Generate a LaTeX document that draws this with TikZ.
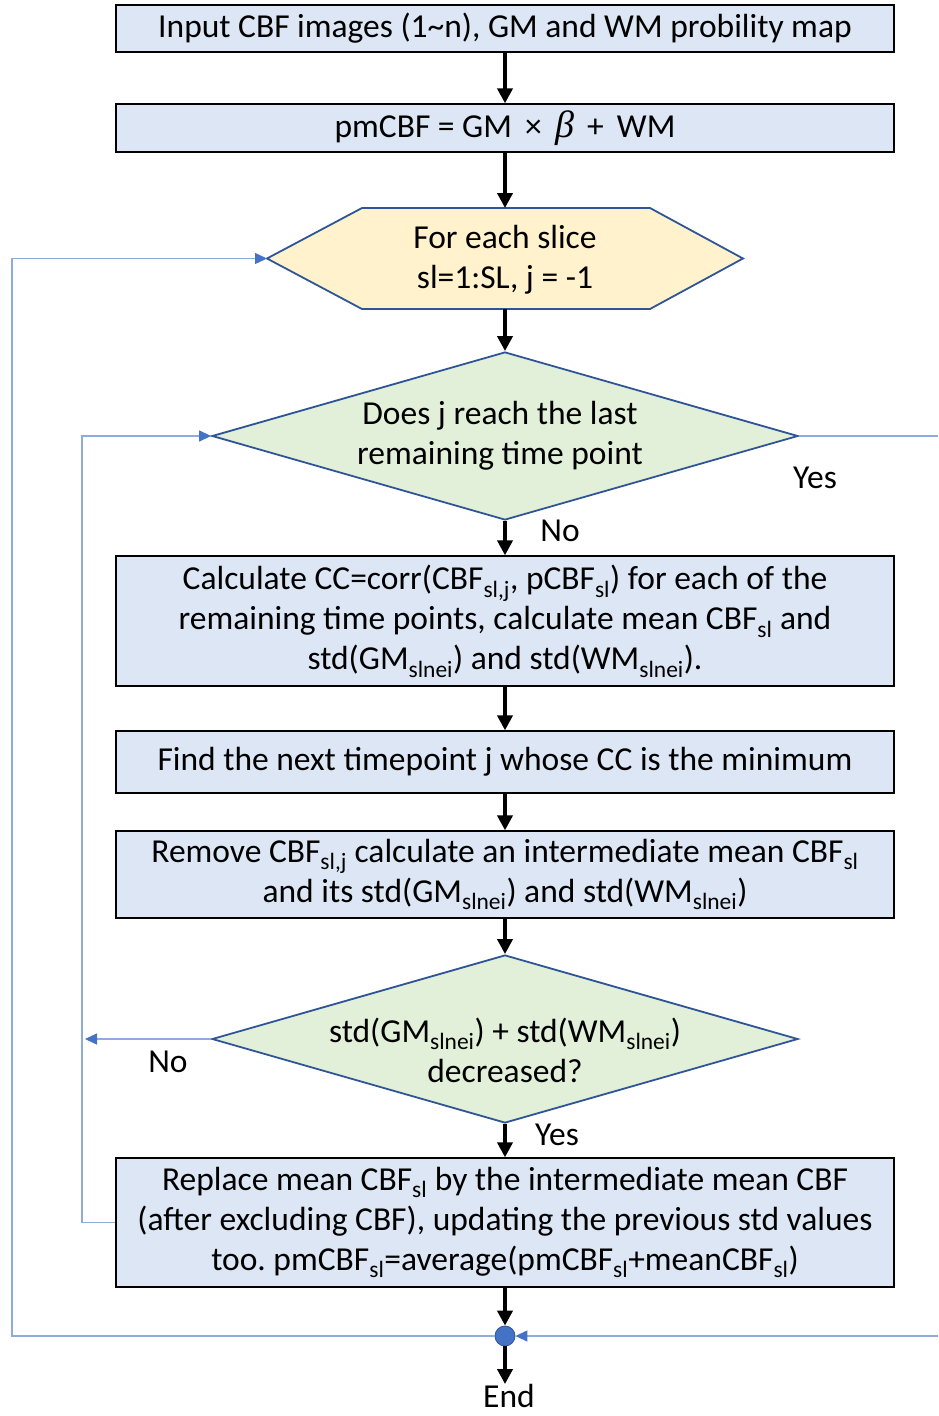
\documentclass[tikz,border=0pt]{standalone}
\usepackage{fontspec}
\setmainfont{Carlito}
\newfontfamily\greekit{Liberation Serif}
\usetikzlibrary{arrows.meta,shapes.geometric}
\definecolor{procfill}{HTML}{DCE6F4}
\definecolor{loopfill}{HTML}{FFF2CC}
\definecolor{decfill}{HTML}{E2F0D9}
\definecolor{shapeedge}{HTML}{2F5597}
\definecolor{loopline}{HTML}{8FAADC}
\definecolor{looptip}{HTML}{4472C4}
\newcommand{\sbs}[1]{\textsubscript{#1}}
\frenchspacing
\begin{document}
\begin{tikzpicture}[x=1pt,y=-1pt,
  font=\fontsize{33.5}{40}\selectfont,
  proc/.style={draw=black, line width=1.3pt, fill=procfill, minimum width=778pt, align=center, inner sep=0pt},
  dec/.style={diamond, draw=shapeedge, line width=1.8pt, fill=decfill, minimum width=586pt, minimum height=168pt, inner sep=0pt},
  hexstyle/.style={draw=shapeedge, line width=1.8pt, fill=loopfill, line join=miter},
  txt/.style={align=center, inner sep=0pt},
  flow/.style={line width=4pt, -{Triangle[length=15pt,width=15pt]}},
  loopln/.style={draw=loopline, line width=1.3pt},
  looparrow/.style={loopln, -{Triangle[length=12pt,width=11pt,color=looptip]}}
]
\useasboundingbox (0,0) rectangle (938,1416);

% main chain
\node[proc, minimum height=47pt] (b1) at (505,28.5)
  {Input CBF images (1\textasciitilde n), GM and WM probility map};
\node[proc, minimum height=48pt] (b2) at (505,128)
  {pmCBF = GM \,×\, {\greekit\itshape\fontsize{38}{40}\selectfont β} \,+\, WM};

% slice loop header
\draw[hexstyle] (267,258.5) -- (362,208) -- (650,208) -- (743,258.5) -- (650,309) -- (362,309) -- cycle;
\coordinate (hexL) at (267,258.5);
\coordinate (hexT) at (505,208);
\coordinate (hexB) at (505,309);
\node[txt] (hex) at (505,260) {For each slice\\sl=1:SL, j = -1};

\node[dec] (d1) at (505,436) {};
\node[txt] (d1t) at (500,436) {Does j reach the last\\remaining time point};

\node[proc, minimum height=130pt] (b3) at (505,621)
  {Calculate CC=corr(CBF\sbs{sl,j}, pCBF\sbs{sl}) for each of the\\
   remaining time points, calculate mean CBF\sbs{sl} and\\
   std(GM\sbs{slnei}) and std(WM\sbs{slnei}).};
\node[proc, minimum height=62pt] (b4) at (505,762)
  {Find the next timepoint j whose CC is the minimum};
\node[proc, minimum height=87pt] (b5) at (505,874.5)
  {Remove CBF\sbs{sl,j} calculate an intermediate mean CBF\sbs{sl}\\
   and its std(GM\sbs{slnei}) and std(WM\sbs{slnei})};

\node[dec] (d2) at (505,1039) {};
\node[txt] (d2t) at (505,1050) {std(GM\sbs{slnei}) + std(WM\sbs{slnei})\\decreased?};

\node[proc, minimum height=129pt] (b6) at (505,1222.5)
  {Replace mean CBF\sbs{sl} by the intermediate mean CBF\\
   (after excluding CBF), updating the previous std values\\
   too. pmCBF\sbs{sl}=average(pmCBF\sbs{sl}+meanCBF\sbs{sl})};

\node[circle, fill=looptip, draw=shapeedge, line width=0.8pt, minimum size=20pt, inner sep=0pt] (junc) at (505,1336) {};
\node[txt] (end) at (509,1396) {End};

% branch labels
\node[txt] (yes1) at (815,478) {Yes};
\node[txt] (no1) at (560,531) {No};
\node[txt] (no2) at (168,1062) {No};
\node[txt] (yes2) at (557,1135) {Yes};

% main flow arrows
\draw[flow] (b1.south) -- (b2.north);
\draw[flow] (b2.south) -- (hexT);
\draw[flow] (hexB) -- (d1.north);
\draw[flow] (d1.south) -- (b3.north);
\draw[flow] (b3.south) -- (b4.north);
\draw[flow] (b4.south) -- (b5.north);
\draw[flow] (b5.south) -- (d2.north);
\draw[flow] (d2.south) -- (b6.north);
\draw[flow] (b6.south) -- (junc.north);
\draw[flow] (junc.south) -- (junc.south |- end.north);

% loop-back connectors
\coordinate (outerB) at (12,1336);
\coordinate (outerT) at (12,258.5);
\coordinate (innerB) at (82,1222.5);
\coordinate (innerT) at (82,436);
\coordinate (noEnd) at (85,1039);
\coordinate (rTop) at (938,436);
\coordinate (rBot) at (938,1336);

\draw[looparrow] (junc.west) -- (outerB) -- (outerT) -- (hexL);
\draw[looparrow] (b6.west) -- (innerB) -- (innerT) -- (d1.west);
\draw[looparrow] (d2.west) -- (noEnd);
\draw[loopln] (d1.east) -- (rTop);
\draw[looparrow] (rBot) -- (junc.east);
\end{tikzpicture}
\end{document}
